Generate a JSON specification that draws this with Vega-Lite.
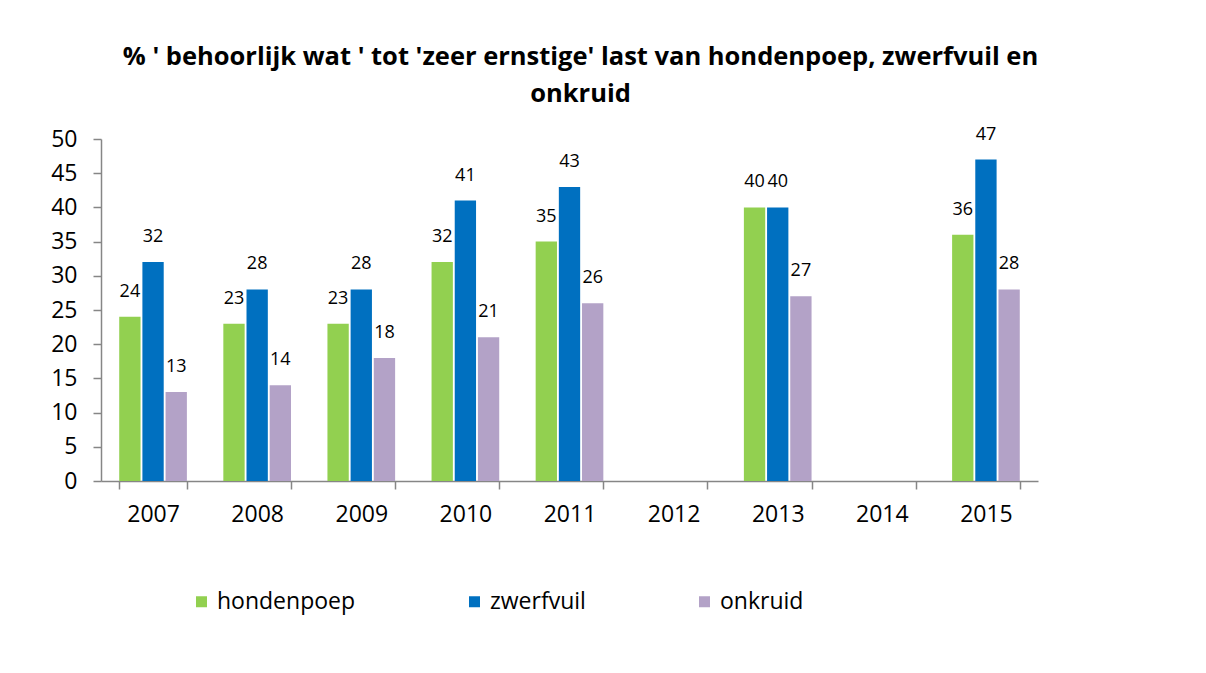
{
  "$schema": "https://vega.github.io/schema/vega-lite/v6.json",
  "autosize": {"type": "none"},
  "width": 937,
  "height": 342,
  "padding": {"left": 101, "top": 139, "right": 168, "bottom": 192},
  "background": "white",
  "config": {"view": {"stroke": null}, "font": "Open Sans"},
  "title": {
    "text": ["% ' behoorlijk wat ' tot 'zeer ernstige' last van hondenpoep, zwerfvuil en", "onkruid"],
    "fontSize": 25.5,
    "fontWeight": "bold",
    "font": "Open Sans",
    "color": "#000000",
    "lineHeight": 37,
    "anchor": "middle",
    "dx": 11,
    "offset": 18
  },
  "data": {
    "values": [
      {"year": "2007", "series": "hondenpoep", "value": 24},
      {"year": "2007", "series": "zwerfvuil", "value": 32},
      {"year": "2007", "series": "onkruid", "value": 13},
      {"year": "2008", "series": "hondenpoep", "value": 23},
      {"year": "2008", "series": "zwerfvuil", "value": 28},
      {"year": "2008", "series": "onkruid", "value": 14},
      {"year": "2009", "series": "hondenpoep", "value": 23},
      {"year": "2009", "series": "zwerfvuil", "value": 28},
      {"year": "2009", "series": "onkruid", "value": 18},
      {"year": "2010", "series": "hondenpoep", "value": 32},
      {"year": "2010", "series": "zwerfvuil", "value": 41},
      {"year": "2010", "series": "onkruid", "value": 21},
      {"year": "2011", "series": "hondenpoep", "value": 35},
      {"year": "2011", "series": "zwerfvuil", "value": 43},
      {"year": "2011", "series": "onkruid", "value": 26},
      {"year": "2013", "series": "hondenpoep", "value": 40},
      {"year": "2013", "series": "zwerfvuil", "value": 40},
      {"year": "2013", "series": "onkruid", "value": 27},
      {"year": "2015", "series": "hondenpoep", "value": 36},
      {"year": "2015", "series": "zwerfvuil", "value": 47},
      {"year": "2015", "series": "onkruid", "value": 28}
    ]
  },
  "encoding": {
    "x": {
      "field": "year",
      "type": "nominal",
      "scale": {"domain": ["2007","2008","2009","2010","2011","2012","2013","2014","2015"], "paddingInner": 0.35, "paddingOuter": 0.175},
      "axis": {
        "title": null,
        "labelAngle": 0,
        "labelFontSize": 23,
        "labelColor": "#000000",
        "labelPadding": 14,
        "tickBand": "extent",
        "tickSize": 8,
        "tickColor": "#868686",
        "domainColor": "#868686",
        "tickWidth": 1.5,
        "domainWidth": 1.5
      }
    },
    "xOffset": {
      "field": "series",
      "type": "nominal",
      "sort": ["hondenpoep", "zwerfvuil", "onkruid"],
      "scale": {"paddingInner": 0.08}
    },
    "y": {
      "field": "value",
      "type": "quantitative",
      "scale": {"domain": [0, 50]},
      "axis": {
        "title": null,
        "values": [0,5,10,15,20,25,30,35,40,45,50],
        "grid": false,
        "labelFontSize": 23,
        "labelColor": "#000000",
        "labelPadding": 16,
        "tickSize": 8,
        "tickColor": "#868686",
        "domainColor": "#868686",
        "tickWidth": 1.5,
        "domainWidth": 1.5
      }
    }
  },
  "layer": [
    {
      "mark": {"type": "bar"},
      "encoding": {
        "color": {
          "field": "series",
          "type": "nominal",
          "sort": ["hondenpoep", "zwerfvuil", "onkruid"],
          "scale": {"domain": ["hondenpoep", "zwerfvuil", "onkruid"], "range": ["#92D050", "#0070C0", "#B3A2C7"]},
          "legend": {
            "title": null,
            "orient": "none",
            "direction": "horizontal",
            "legendX": 89,
            "legendY": 451,
            "symbolType": "square",
            "symbolSize": 121,
            "symbolStrokeWidth": 0,
            "labelFontSize": 23,
            "labelColor": "#000000",
            "labelOffset": 4,
            "columnPadding": 107,
            "labelLimit": 300
          }
        }
      }
    },
    {
      "mark": {"type": "text", "baseline": "middle", "dy": -25, "fontSize": 18, "color": "#000000"},
      "encoding": {"text": {"field": "value", "type": "quantitative"}}
    }
  ]
}
